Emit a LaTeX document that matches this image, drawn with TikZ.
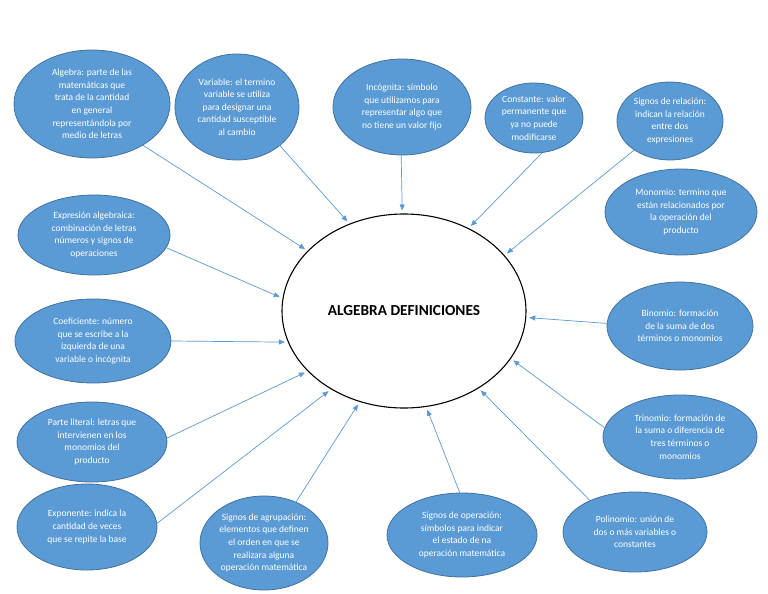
\documentclass[tikz,border=0pt]{standalone}
\usepackage{fontspec}
\setmainfont{Carlito}
\usetikzlibrary{shapes.geometric,arrows.meta}
\definecolor{ofblue}{HTML}{5B9BD5}
\definecolor{ofedge}{HTML}{41719C}
\definecolor{linkblue}{HTML}{5B9BD5}
\begin{document}
\begin{tikzpicture}[x=1pt,y=-1pt,
  bub/.style={ellipse,fill=ofblue,draw=ofedge,line width=0.8pt,inner sep=0pt,
    text=white,align=center,font=\fontsize{9.5}{12.6}\selectfont},
  con/.style={draw=linkblue,line width=0.7pt,-{Triangle[length=6pt,width=5pt]},shorten >=3pt}]
\useasboundingbox (0,0) rectangle (768,594);
\fill[white] (0,0) rectangle (768,594);

\node[ellipse,draw=black,line width=1.1pt,fill=white,minimum width=244,minimum height=194,
  font=\bfseries\fontsize{15.3}{17}\selectfont] (main) at (404,311) {ALGEBRA DEFINICIONES};

\node[bub,minimum width=156,minimum height=108] (alg) at (92,104)
  {Algebra: parte de las\\matemáticas que\\trata de la cantidad\\en general\\representándola por\\medio de letras};
\node[bub,minimum width=124,minimum height=106] (var) at (237,107)
  {Variable: el termino\\variable se utiliza\\para designar una\\cantidad susceptible\\al cambio};
\node[bub,minimum width=138,minimum height=96] (inc) at (402,107)
  {Incógnita: símbolo\\que utilizamos para\\representar algo que\\no tiene un valor fijo};
\node[bub,minimum width=98,minimum height=70] (cons) at (534,118)
  {Constante: valor\\permanente que\\ya no puede\\modificarse};
\node[bub,minimum width=106,minimum height=78] (rel) at (670,121)
  {Signos de relación:\\indican la relación\\entre dos\\expresiones};
\node[bub,minimum width=152,minimum height=86] (mono) at (681,212)
  {Monomio: termino que\\están relacionados por\\la operación del\\producto};
\node[bub,minimum width=152,minimum height=80] (exp) at (94,235)
  {Expresión algebraica:\\combinación de letras\\números y signos de\\operaciones};
\node[bub,minimum width=156,minimum height=84] (coef) at (93,341)
  {Coeficiente: número\\que se escribe a la\\izquierda de una\\variable o incógnita};
\node[bub,minimum width=146,minimum height=88] (bin) at (680,326)
  {Binomio: formación\\de la suma de dos\\términos o monomios};
\node[bub,minimum width=150,minimum height=80] (lit) at (92,442)
  {Parte literal: letras que\\intervienen en los\\monomios del\\producto};
\node[bub,minimum width=154,minimum height=84] (tri) at (680,437)
  {Trinomio: formación de\\la suma o diferencia de\\tres términos o\\monomios};
\node[bub,minimum width=140,minimum height=86] (expo) at (87,527)
  {Exponente: indica la\\cantidad de veces\\que se repite la base};
\node[bub,minimum width=128,minimum height=94] (agr) at (264,543)
  {Signos de agrupación:\\elementos que definen\\el orden en que se\\realizara alguna\\operación matemática};
\node[bub,minimum width=150,minimum height=84] (ope) at (462,535)
  {Signos de operación:\\símbolos para indicar\\el estado de na\\operación matemática};
\node[bub,minimum width=144,minimum height=80] (pol) at (635,532)
  {Polinomio: unión de\\dos o más variables o\\constantes};

\draw[con] (alg.-39) -- (main.148);
\draw[con,shorten <=-6pt] (var.-42) -- (main.122);
\draw[con] (inc.-91) -- (main.91);
\draw[con] (cons.-77) -- (main.52);
\draw[con] (rel.-141) -- (main.29);
\draw[con] (exp.-10) -- (main.174);
\draw[con] (coef.0) -- (main.-165);
\draw[con] (lit.3) -- (main.-148);
\draw[con] (expo.3) -- (main.-133);
\draw[con,shorten <=-8pt] (agr.52) -- (main.-116);
\draw[con] (ope.93) -- (main.-77);
\draw[con] (pol.145) -- (main.-46);
\draw[con] (tri.173) -- (main.-24);
\draw[con] (bin.178) -- (main.-3);
\end{tikzpicture}
\end{document}
